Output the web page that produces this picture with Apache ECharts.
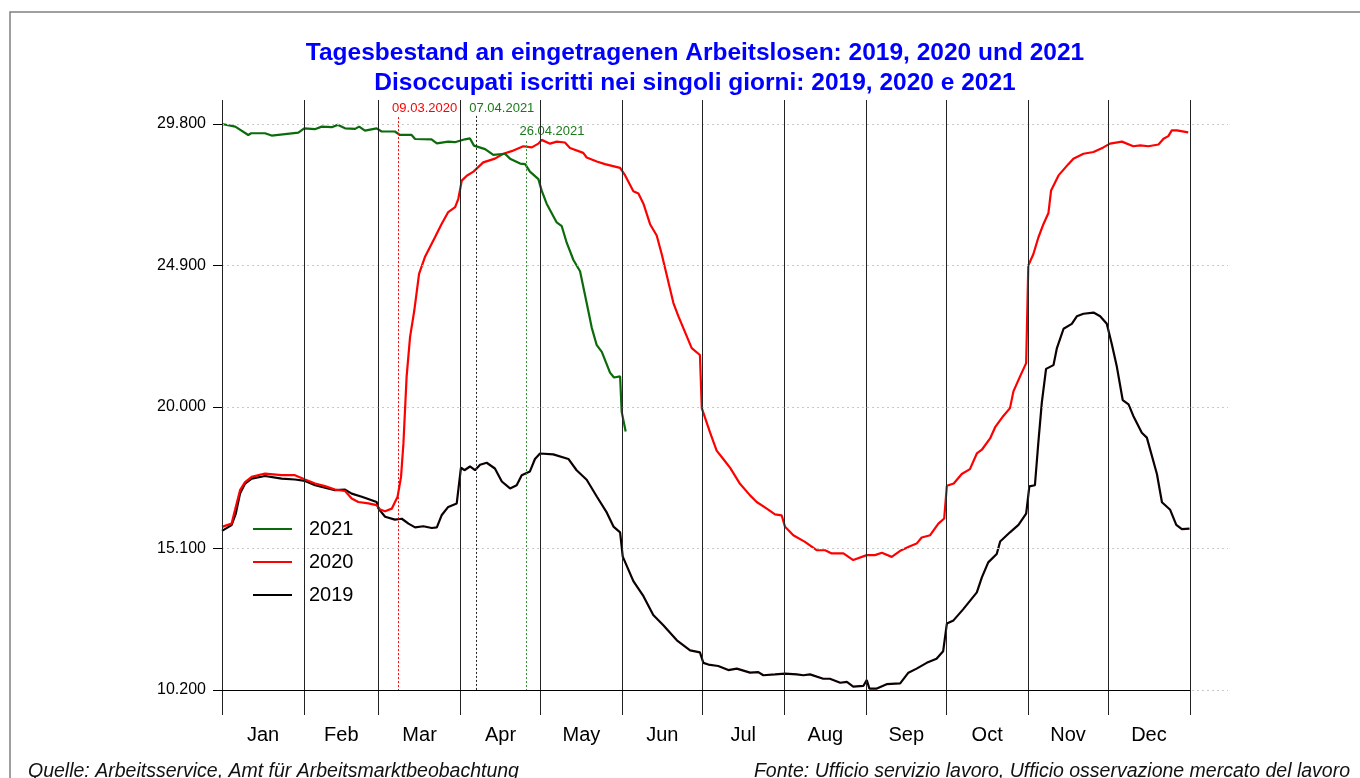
<!DOCTYPE html>
<html>
<head>
<meta charset="utf-8">
<title>Tagesbestand Arbeitslose</title>
<script src="https://cdn.jsdelivr.net/npm/echarts@6/dist/echarts.min.js"></script>
<style>
html, body { margin: 0; padding: 0; background: #fff; }
#chart { width: 1360px; height: 778px; }
</style>
</head>
<body>
<div id="chart"></div>
<script>
var monthNames = ["Jan", "Feb", "Mar", "Apr", "May", "Jun", "Jul", "Aug", "Sep", "Oct", "Nov", "Dec"];
var monthStarts = [0, 31, 59, 90, 120, 151, 181, 212, 243, 273, 304, 334, 365];
var yTicks = [10200, 15100, 20000, 24900, 29800];

// 2021 (day of year, value)
var days2021 = [0, 5, 9.9, 11, 16.2, 18.7, 23.8, 28.8, 31, 35, 37.6, 41.4, 43.6, 46.4, 50.2, 51.7, 53.9, 58.3, 60.2, 65.2,
  67.1, 71.5, 72.8, 79, 81, 85.3, 87.8, 91.6, 93.5, 95, 99.2, 102.3, 106.7, 108.6, 112.4, 114.3, 116.1, 119.3, 120.5, 122.4,
  126.2, 128.1, 130, 132.5, 135, 137.5, 139.4, 141.3, 143.2, 146.3, 147.8, 150.1, 150.7, 152.2];
var vals2021 = [29800, 29710, 29420, 29480, 29480, 29400, 29450, 29500, 29650, 29620, 29710, 29690, 29770, 29650, 29630, 29710, 29570, 29650, 29540, 29540,
  29420, 29420, 29280, 29270, 29130, 29190, 29170, 29270, 29300, 29050, 28930, 28730, 28770, 28600, 28430, 28410, 28150, 27890, 27500, 27040,
  26390, 26260, 25680, 25090, 24700, 23600, 22750, 22140, 21910, 21190, 21020, 21060, 19830, 19150];

// 2020
var days2020 = [0, 3.6, 4.9, 6.8, 8.7, 11.2, 15, 16.2, 22.5, 27.5, 31.3, 35.1, 38.8, 42.6, 46.4, 48.9, 51.4, 55.2, 58.3, 59.6,
  61.5, 64, 66.2, 67.5, 68.4, 69.6, 70.9, 72.5, 74.3, 76.5, 80.3, 82.8, 85.3, 87.9, 89.1, 90.4, 92.3, 94.8, 98.5, 102.9,
  106.1, 109.2, 113.6, 116.8, 119.3, 120.5, 123.7, 126.2, 129.3, 131.2, 136.2, 137.5, 141.3, 144.4, 150.1, 152, 155.1, 157, 158.9, 161.4,
  163.9, 165.8, 170.2, 172.1, 177.1, 180.2, 180.9, 184, 186.5, 189, 191.6, 195.3, 199.1, 201.6, 205.4, 208.5, 211, 212.3, 215.4, 219.8,
  224.2, 227.4, 229.9, 234.3, 238, 243.1, 246.2, 248.8, 252.5, 255.7, 259.4, 261.9, 263.8, 267, 270.1, 272.3, 273.3, 275.9, 278.9, 282,
  284.6, 286.5, 289.6, 291.5, 294.6, 297.1, 298.4, 300.9, 303.2, 304, 305.9, 307.8, 309.7, 311.6, 312.6, 315.4, 319.1, 321, 324.8, 328.6,
  332.3, 334.8, 339.3, 343.6, 346.2, 349.3, 353.1, 355, 356.8, 358.1, 360, 364.3];
var vals2020 = [15850, 15960, 16430, 17120, 17400, 17580, 17670, 17690, 17640, 17640, 17490, 17350, 17260, 17140, 17090, 16830, 16710, 16660, 16600, 16450,
  16390, 16480, 16890, 17580, 18730, 21040, 22420, 23340, 24610, 25190, 25880, 26340, 26750, 26920, 27210, 27840, 28010, 28150, 28470, 28600,
  28770, 28860, 29030, 28990, 29120, 29250, 29120, 29190, 29160, 28970, 28800, 28640, 28500, 28410, 28280, 28020, 27470, 27390, 27040, 26330,
  25940, 25290, 23600, 23140, 22040, 21800, 19960, 19120, 18490, 18200, 17890, 17340, 16940, 16710, 16480, 16280, 16250, 15850, 15560, 15330,
  15040, 15040, 14930, 14930, 14700, 14870, 14870, 14950, 14810, 15020, 15180, 15270, 15480, 15560, 15960, 16140, 17270, 17350, 17680, 17850,
  18390, 18520, 18910, 19300, 19690, 19960, 20540, 21060, 21520, 24900, 25290, 25870, 26330, 26720, 27500, 28020, 28410, 28600, 28770, 28830,
  28990, 29120, 29190, 29030, 29060, 29030, 29090, 29290, 29380, 29580, 29580, 29510];

// 2019
var days2019 = [0, 3.6, 5.2, 6.8, 8.7, 11.2, 16.2, 22.5, 27.5, 31.3, 35.1, 38.8, 42.6, 46.4, 48.9, 52.7, 54.6, 58.3, 59, 61.5,
  65.2, 67.8, 70.3, 72.8, 75.9, 79.1, 81, 82.8, 85.3, 88.5, 90.1, 91.4, 93.5, 95.4, 97.3, 99.8, 102.9, 105.5, 108.6, 111.1,
  113, 116.1, 118, 119.9, 124.9, 130.6, 133.7, 137.5, 141.3, 145.1, 147.6, 150.1, 151.1, 155.1, 158.9, 162.6, 166.4, 171.5, 176.5, 180.2,
  181.5, 183.4, 187.1, 190.9, 194.1, 199.1, 202.2, 204.1, 208.5, 212.3, 216.7, 219.2, 221.7, 226.7, 229.2, 233.1, 235.6, 238, 241.8, 243.1,
  244.1, 246.9, 250.6, 255.7, 258.8, 261.9, 265.7, 269.4, 271.9, 273.3, 275.8, 279.5, 284.6, 286.5, 288.9, 292.1, 293.4, 297.1, 300.3, 303.2,
  304.4, 306.5, 307.8, 309.1, 310.7, 313.5, 314.8, 317.3, 320.4, 322.3, 324.8, 328.6, 331.1, 333.6, 335.5, 337.4, 339.6, 341.8, 343.6, 346.8,
  348.7, 352.5, 354.4, 357.5, 359.8, 361.9, 364.8];
var vals2019 = [15710, 15910, 16310, 17000, 17350, 17520, 17610, 17520, 17490, 17440, 17290, 17210, 17120, 17140, 17000, 16890, 16830, 16710, 16480, 16200,
  16100, 16130, 15960, 15830, 15870, 15810, 15830, 16250, 16540, 16660, 17900, 17810, 17940, 17810, 18000, 18070, 17870, 17420, 17180, 17290,
  17640, 17770, 18200, 18390, 18360, 18200, 17810, 17480, 16900, 16340, 15860, 15660, 14820, 13970, 13450, 12800, 12440, 11920, 11570, 11500,
  11140, 11080, 11030, 10890, 10940, 10800, 10820, 10710, 10740, 10770, 10740, 10710, 10740, 10590, 10590, 10450, 10480, 10320, 10340, 10540,
  10250, 10250, 10400, 10430, 10800, 10940, 11140, 11280, 11540, 12500, 12610, 13000, 13580, 14100, 14620, 14910, 15340, 15660, 15920, 16310,
  17250, 17290, 18780, 20150, 21320, 21450, 22040, 22710, 22880, 23140, 23230, 23270, 23140, 22880, 22170, 21390, 20240, 20090, 19690, 19110,
  18940, 17680, 16700, 16440, 15920, 15770, 15790];

// Stichtage / date di riferimento
var markDates = ["09.03.2020", "07.04.2021", "26.04.2021"];
var markDays = [66.6, 95.7, 114.6];

var FONT = "'Liberation Sans', Arial, Helvetica, sans-serif";

function pairs(d, v) {
  return d.map(function (x, i) { return [x, v[i]]; });
}
function fmtNum(v) {
  var s = String(Math.round(v));
  return s.slice(0, -3) + "." + s.slice(-3);
}

var monthMids = [];
for (var i = 0; i < 12; i++) {
  monthMids.push((monthStarts[i] + monthStarts[i + 1]) / 2);
}

var refLines = [];
yTicks.forEach(function (v) {
  refLines.push({ yAxis: v, lineStyle: { color: "#c8c8c8", width: 1, type: [2, 3] } });
});
monthStarts.forEach(function (d) {
  refLines.push({ xAxis: d, lineStyle: { color: "#222", width: 1, type: "solid" } });
});
refLines.push([
  { coord: [0, yTicks[0]], lineStyle: { color: "#000", width: 1.2, type: "solid" } },
  { coord: [365, yTicks[0]] }
]);
var markColors = ["#ff0000", "#222222", "#3a8a3a"];
var markTops = [30040, 30080, 29210];
markDays.forEach(function (d, i) {
  refLines.push([
    { coord: [d, markTops[i]], lineStyle: { color: markColors[i], width: 1, type: [2, 2] } },
    { coord: [d, yTicks[0]] }
  ]);
});

var myChart = echarts.init(document.getElementById("chart"));

var option = {
  animation: false,
  backgroundColor: "#fff",
  textStyle: { fontFamily: FONT },
  title: {
    text: "Tagesbestand an eingetragenen Arbeitslosen: 2019, 2020 und 2021\nDisoccupati iscritti nei singoli giorni: 2019, 2020 e 2021",
    left: 690,
    top: 33,
    textAlign: "center",
    textStyle: {
      color: "#0000ff",
      fontSize: 24.5,
      fontWeight: "bold",
      lineHeight: 30,
      fontFamily: FONT
    }
  },
  legend: {
    data: ["2021", "2020", "2019"],
    orient: "vertical",
    left: 253,
    top: 519,
    padding: 0,
    icon: "rect",
    itemWidth: 39,
    itemHeight: 2,
    itemGap: 13,
    textStyle: { fontSize: 20, color: "#000", padding: [0, 0, 0, 12], fontFamily: FONT }
  },
  grid: {
    left: 222,
    right: 132,
    top: 100,
    bottom: 63,
    containLabel: false
  },
  xAxis: {
    type: "value",
    min: 0,
    max: 379.3,
    axisLine: { show: false },
    axisTick: { show: false },
    splitLine: { show: false },
    axisLabel: {
      customValues: monthMids,
      formatter: function (v) {
        return monthNames[monthMids.indexOf(v)];
      },
      fontSize: 20,
      color: "#000",
      margin: 10
    }
  },
  yAxis: {
    type: "value",
    min: 9334,
    max: 30631,
    axisLine: { show: false },
    splitLine: { show: false },
    axisTick: {
      show: true,
      customValues: yTicks,
      length: 9,
      lineStyle: { color: "#000" }
    },
    axisLabel: {
      customValues: yTicks,
      formatter: fmtNum,
      fontSize: 16,
      color: "#000",
      margin: 16
    }
  },
  series: [
    {
      name: "ref",
      type: "line",
      data: [],
      silent: true,
      markLine: {
        silent: true,
        symbol: ["none", "none"],
        label: { show: false },
        data: refLines
      }
    },
    {
      name: "2019",
      type: "line",
      data: pairs(days2019, vals2019),
      showSymbol: false,
      symbol: "none",
      color: "#000",
      lineStyle: { color: "#0d0000", width: 2.2 }
    },
    {
      name: "2020",
      type: "line",
      data: pairs(days2020, vals2020),
      showSymbol: false,
      symbol: "none",
      color: "#ff0000",
      lineStyle: { color: "#ff0000", width: 2.2 }
    },
    {
      name: "2021",
      type: "line",
      data: pairs(days2021, vals2021),
      showSymbol: false,
      symbol: "none",
      color: "#0b6b0b",
      lineStyle: { color: "#0b6b0b", width: 2.2 }
    }
  ]
};

myChart.setOption(option);

// Datumsbeschriftungen, Rahmen und Quellenangaben
var labelY = [108, 108, 131];
var labelColors = ["#ff0000", "#1a7a1a", "#1a7a1a"];
var graphics = [
  {
    type: "rect",
    shape: { x: 10, y: 12, width: 1400, height: 800 },
    style: { fill: "none", stroke: "#808080", lineWidth: 1.5 },
    silent: true
  },
  {
    type: "text",
    left: 28,
    top: 762,
    style: {
      text: "Quelle: Arbeitsservice, Amt für Arbeitsmarktbeobachtung",
      font: "italic 19.5px " + FONT,
      fill: "#111"
    }
  },
  {
    type: "text",
    right: 10,
    top: 762,
    style: {
      text: "Fonte: Ufficio servizio lavoro, Ufficio osservazione mercato del lavoro",
      font: "italic 19.5px " + FONT,
      fill: "#111"
    }
  }
];
markDays.forEach(function (d, i) {
  var p = myChart.convertToPixel({ gridIndex: 0 }, [d, yTicks[0]]);
  graphics.push({
    type: "text",
    x: p[0] + 26,
    y: labelY[i],
    style: {
      text: markDates[i],
      font: "13px " + FONT,
      fill: labelColors[i],
      textAlign: "center",
      textVerticalAlign: "middle"
    }
  });
});
myChart.setOption({ graphic: graphics });

window.addEventListener("resize", function () {
  myChart.resize();
});
</script>
</body>
</html>
